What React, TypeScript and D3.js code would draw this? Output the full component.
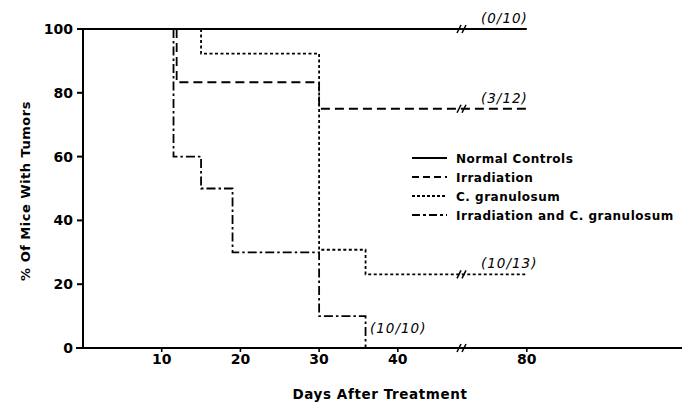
import React from 'react';
import * as d3 from 'd3';

// step data: day of each change and % of mice with tumors after it
const normalDays = [0, 80];
const normalPct = [100, 100];

const irradiationDays = [11.9, 11.9, 30, 80];
const irradiationPct = [100, 83.3, 75, 75];

const cgranDays = [15, 15, 30, 35.9, 80];
const cgranPct = [100, 92.3, 30.8, 23.1, 23.1];

const comboDays = [11.5, 11.5, 15, 19, 30, 35.9];
const comboPct = [100, 60, 50, 30, 10, 0];

const yTicks = [0, 20, 40, 60, 80, 100];
const xTicks = [10, 20, 30, 40, 80];

const legendNames = ['Normal Controls', 'Irradiation', 'C. granulosum', 'Irradiation and C. granulosum'];
const endLabels = ['(0/10)', '(3/12)', '(10/13)', '(10/10)'];

const W = 689;
const H = 404;
const FONT = '"DejaVu Sans", sans-serif';

// broken x axis: 47.9 .. 71.5 collapses to the break
const x = d3.scaleLinear().domain([0, 47.9, 71.5, 100]).range([83, 460, 460, 684]);
const y = d3.scaleLinear().domain([0, 100]).range([348, 29]);
const breakX = 460;

const dashes = [null, '9,5', '3,2.5', '9,3,2.5,3'];
const legendDashes = [null, '7,4', '3,2', '8,3,3,3'];

function stepPath(days: number[], pct: number[]) {
  const pts = days.map((d, i) => [d, pct[i]] as [number, number]);
  return d3.line<[number, number]>()
    .x(d => x(d[0]))
    .y(d => y(d[1]))
    .curve(d3.curveStepAfter)(pts) || '';
}

function BreakMark({ cx, cy }: { cx: number; cy: number }) {
  return (
    <g stroke="#000" strokeWidth={1.6}>
      <line x1={cx - 5} y1={cy + 4} x2={cx - 1} y2={cy - 4} />
      <line x1={cx} y1={cy + 4} x2={cx + 4} y2={cy - 4} />
    </g>
  );
}

export default function App() {
  const series = [
    [normalDays, normalPct],
    [irradiationDays, irradiationPct],
    [cgranDays, cgranPct],
    [comboDays, comboPct],
  ];

  const labelPos = [
    { lx: 481, ly: y(100) - 6 },
    { lx: 481, ly: y(75) - 6 },
    { lx: 481, ly: y(23.1) - 6 },
    { lx: 370, ly: 333 },
  ];

  return (
    <svg
      width={W}
      height={H}
      style={{ position: 'absolute', left: 0, top: 0, background: '#fff' }}
      fontFamily={FONT}
    >
      <rect width={W} height={H} fill="#fff" />

      {/* axes */}
      <line x1={x(0)} y1={y(0)} x2={x(0)} y2={y(100)} stroke="#000" strokeWidth={2} />
      <line x1={76} y1={y(0)} x2={x(100) - 2} y2={y(0)} stroke="#000" strokeWidth={2} />
      {yTicks.map(t => (
        <g key={t}>
          <line x1={x(0) - 6} x2={x(0)} y1={y(t)} y2={y(t)} stroke="#000" strokeWidth={2} />
          <text x={73} y={y(t) + 5} textAnchor="end" fontSize={14} fontWeight="bold">{t}</text>
        </g>
      ))}
      {xTicks.map(t => (
        <g key={t}>
          <line x1={x(t)} x2={x(t)} y1={y(0)} y2={y(0) + 4} stroke="#000" strokeWidth={1.6} />
          <text x={x(t)} y={364} textAnchor="middle" fontSize={14} fontWeight="bold">{t}</text>
        </g>
      ))}
      <BreakMark cx={breakX + 2} cy={y(0)} />

      <text x={380} y={399} textAnchor="middle" fontSize={13.5} fontWeight="bold" letterSpacing={0.6}>
        Days After Treatment
      </text>
      <text
        transform={`translate(30, 191) rotate(-90)`}
        textAnchor="middle"
        fontSize={13}
        fontWeight="bold"
        letterSpacing={0.5}
      >
        % Of Mice With Tumors
      </text>

      {/* survival steps */}
      {series.map(([days, pct], i) => (
        <path
          key={i}
          d={stepPath(days, pct)}
          fill="none"
          stroke="#000"
          strokeWidth={1.8}
          strokeDasharray={dashes[i] || undefined}
        />
      ))}
      <BreakMark cx={breakX + 2} cy={y(100)} />
      <BreakMark cx={breakX + 2} cy={y(75)} />
      <BreakMark cx={breakX + 2} cy={y(23.1)} />

      {endLabels.map((l, i) => (
        <text
          key={l}
          x={labelPos[i].lx}
          y={labelPos[i].ly}
          fontSize={13.5}
          fontStyle="italic"
          letterSpacing={1}
        >
          {l}
        </text>
      ))}

      {/* legend */}
      {legendNames.map((n, i) => {
        const ly = 158 + i * 19;
        return (
          <g key={n}>
            <line
              x1={412}
              x2={447}
              y1={ly}
              y2={ly}
              stroke="#000"
              strokeWidth={1.8}
              strokeDasharray={legendDashes[i] || undefined}
            />
            <text x={456} y={ly + 4.5} fontSize={12} fontWeight="bold" letterSpacing={0.5}>{n}</text>
          </g>
        );
      })}
    </svg>
  );
}
